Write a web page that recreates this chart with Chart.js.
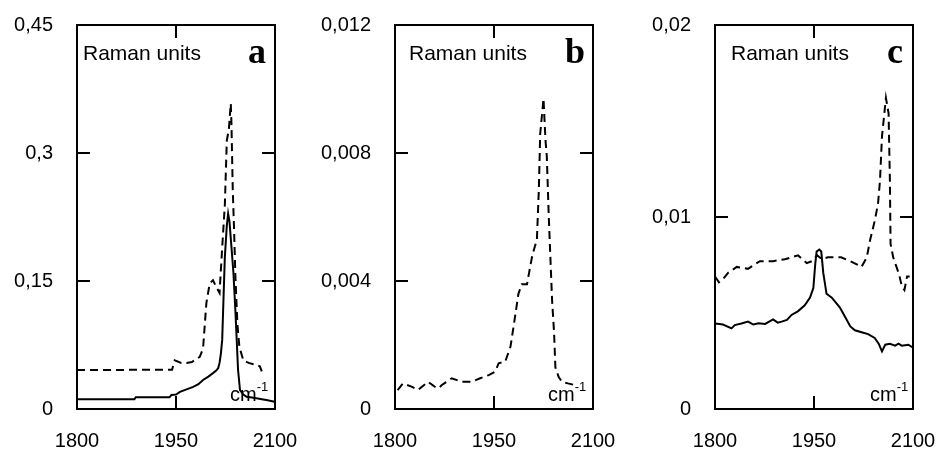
<!DOCTYPE html>
<html>
<head>
<meta charset="utf-8">
<script src="https://cdn.jsdelivr.net/npm/chart.js@4/dist/chart.umd.min.js"></script>
<style>
  html, body { margin: 0; padding: 0; background: #fff; }
  body { width: 936px; height: 452px; position: relative; overflow: hidden; }
  .panel { position: absolute; top: 0; height: 452px; }
</style>
</head>
<body>
<div class="panel" style="left:0;width:300px"><canvas id="chartA"></canvas></div>
<div class="panel" style="left:300px;width:320px"><canvas id="chartB"></canvas></div>
<div class="panel" style="left:620px;width:316px"><canvas id="chartC"></canvas></div>
<script>
// wavenumber axis, shared by all panels
const xTicks = [1800, 1950, 2100]

// panel a
const aTicks = [0, 0.15, 0.3, 0.45]
const aTickLabels = ['0', '0,15', '0,3', '0,45']
const aSolidX = [1800, 1887, 1889, 1940, 1943, 1950, 1956, 1966, 1976, 1984, 1991, 1999, 2006, 2011, 2014, 2016, 2018, 2020, 2022, 2024, 2027, 2029, 2031, 2034, 2037, 2040, 2042, 2044, 2047, 2052, 2057, 2065, 2072, 2080, 2087, 2094, 2100]
const aSolidY = [0.0113, 0.0113, 0.0137, 0.0137, 0.0164, 0.0170, 0.0200, 0.0230, 0.0260, 0.0290, 0.0340, 0.0380, 0.0420, 0.0450, 0.0480, 0.0540, 0.0650, 0.0810, 0.1300, 0.1780, 0.2150, 0.2290, 0.2200, 0.1900, 0.1600, 0.1150, 0.0810, 0.0460, 0.0220, 0.0170, 0.0144, 0.0135, 0.0125, 0.0115, 0.0105, 0.0095, 0.0086]
const aDashX = [1800, 1944, 1948, 1958, 1966, 1974, 1986, 1991, 1996, 2001, 2006, 2011, 2016, 2018, 2021, 2024, 2027, 2030, 2033, 2034, 2036, 2038, 2040, 2043, 2046, 2052, 2060, 2070, 2077, 2080]
const aDashY = [0.0457, 0.0460, 0.0570, 0.0540, 0.0540, 0.0550, 0.0610, 0.0710, 0.1240, 0.1470, 0.1510, 0.1430, 0.1360, 0.1630, 0.2020, 0.2390, 0.3150, 0.3270, 0.3580, 0.3350, 0.2570, 0.2100, 0.1550, 0.1000, 0.0730, 0.0570, 0.0540, 0.0520, 0.0500, 0.0440]

// panel b
const bTicks = [0, 0.004, 0.008, 0.012]
const bTickLabels = ['0', '0,004', '0,008', '0,012']
const bDashX = [1804, 1812, 1825, 1835, 1850, 1860, 1866, 1871, 1886, 1901, 1916, 1929, 1942, 1952, 1957, 1967, 1975, 1982, 1987, 1992, 2000, 2008, 2015, 2018, 2020, 2025, 2028, 2030, 2033, 2038, 2041, 2043, 2048, 2053, 2062, 2072]
const bDashY = [0.00059, 0.00080, 0.00070, 0.00060, 0.00085, 0.00070, 0.00065, 0.00075, 0.00096, 0.00085, 0.00085, 0.00096, 0.00106, 0.00117, 0.00143, 0.00148, 0.00195, 0.00290, 0.00360, 0.00390, 0.00390, 0.00480, 0.00530, 0.00690, 0.00860, 0.00970, 0.00840, 0.00790, 0.00600, 0.00340, 0.00240, 0.00130, 0.00100, 0.00085, 0.00080, 0.00075]

// panel c
const cTicks = [0, 0.01, 0.02]
const cTickLabels = ['0', '0,01', '0,02']
const cSolidX = [1800, 1812, 1825, 1830, 1840, 1850, 1858, 1866, 1876, 1888, 1895, 1901, 1909, 1916, 1926, 1936, 1944, 1949, 1952, 1954, 1958, 1961, 1964, 1969, 1977, 1989, 1997, 2005, 2012, 2022, 2032, 2042, 2048, 2053, 2058, 2065, 2073, 2078, 2083, 2093, 2100]
const cSolidY = [0.00446, 0.00440, 0.00420, 0.00437, 0.00445, 0.00455, 0.00440, 0.00446, 0.00443, 0.00467, 0.00450, 0.00455, 0.00464, 0.00490, 0.00510, 0.00540, 0.00580, 0.00630, 0.00760, 0.00820, 0.00830, 0.00820, 0.00710, 0.00600, 0.00580, 0.00530, 0.00480, 0.00430, 0.00410, 0.00400, 0.00390, 0.00370, 0.00340, 0.00300, 0.00335, 0.00340, 0.00330, 0.00340, 0.00330, 0.00335, 0.00320]
const cDashX = [1800, 1806, 1813, 1820, 1833, 1850, 1868, 1888, 1906, 1926, 1939, 1947, 1955, 1962, 1971, 1991, 2005, 2017, 2022, 2030, 2035, 2042, 2047, 2050, 2053, 2059, 2063, 2065, 2066, 2070, 2075, 2079, 2083, 2087, 2091, 2095]
const cDashY = [0.0069, 0.0066, 0.0068, 0.0071, 0.0074, 0.0073, 0.0077, 0.0077, 0.0078, 0.0080, 0.0076, 0.0077, 0.0080, 0.0078, 0.0079, 0.0079, 0.0077, 0.0075, 0.0074, 0.0079, 0.0088, 0.0098, 0.0107, 0.0119, 0.0142, 0.0162, 0.0154, 0.0119, 0.0086, 0.0079, 0.0074, 0.0070, 0.0064, 0.0062, 0.0069, 0.0069]

const FONT = '"Liberation Sans", Arial, Helvetica, sans-serif'

const toPoints = (xs, ys) => xs.map((x, i) => ({ x, y: ys[i] }))

/**
 * Plot frame, inward tick marks and the in-plot annotations
 */
const framePlugin = {
    id: 'frame',
    afterDraw(chart, args, opts) {
        const { ctx, chartArea: area, scales } = chart
        const tick = 13
        ctx.save()
        ctx.strokeStyle = '#000'
        ctx.lineWidth = 2
        ctx.strokeRect(area.left, area.top, area.right - area.left, area.bottom - area.top)

        ctx.beginPath()
        scales.y.ticks.forEach(t => {
            if (t.value === scales.y.min || t.value === scales.y.max) return
            const py = Math.round(scales.y.getPixelForValue(t.value))
            ctx.moveTo(area.left, py)
            ctx.lineTo(area.left + tick, py)
            ctx.moveTo(area.right, py)
            ctx.lineTo(area.right - tick, py)
        })
        scales.x.ticks.forEach(t => {
            if (t.value === scales.x.min || t.value === scales.x.max) return
            const px = Math.round(scales.x.getPixelForValue(t.value))
            ctx.moveTo(px, area.top)
            ctx.lineTo(px, area.top + tick)
            ctx.moveTo(px, area.bottom)
            ctx.lineTo(px, area.bottom - tick)
        })
        ctx.stroke()

        ctx.fillStyle = '#000'
        ctx.textBaseline = 'alphabetic'
        ctx.textAlign = 'left'
        ctx.font = '21px ' + FONT
        ctx.fillText('Raman units', area.left + opts.unitsDx, 60)

        ctx.textAlign = 'right'
        ctx.font = 'bold 36px "Liberation Serif", "Times New Roman", serif'
        ctx.fillText(opts.letter, area.right - opts.letterDx, 63)

        ctx.textAlign = 'left'
        ctx.font = '20px ' + FONT
        ctx.fillText('cm', area.right - opts.cmDx, 401)
        const cmW = ctx.measureText('cm').width
        ctx.font = '13px ' + FONT
        ctx.fillText('-1', area.right - opts.cmDx + cmW, 391)
        ctx.restore()
    }
}

function createPanel(canvas, cfg) {
    const ctx = canvas.getContext('2d')
    const datasets = cfg.series.map(s => ({
        data: s.data,
        borderColor: '#000',
        borderWidth: 2,
        borderDash: s.dashed ? [8, 5] : [],
        pointRadius: 0,
        tension: 0,
        fill: false
    }))

    return new Chart(ctx, {
        type: 'line',
        data: { datasets },
        plugins: [framePlugin],
        options: {
            responsive: true,
            maintainAspectRatio: false,
            animation: false,
            events: [],
            layout: { padding: { top: 25, right: cfg.padRight, left: 0, bottom: 0 } },
            plugins: {
                legend: { display: false },
                tooltip: { enabled: false },
                frame: cfg.frame
            },
            scales: {
                x: {
                    type: 'linear',
                    min: 1800,
                    max: 2100,
                    grid: { display: false, drawTicks: false },
                    border: { display: false },
                    afterBuildTicks: scale => { scale.ticks = xTicks.map(v => ({ value: v })) },
                    afterFit: scale => {
                        scale.height = 43
                        scale.paddingLeft = 0
                        scale.paddingRight = 0
                    },
                    ticks: {
                        color: '#000',
                        padding: 20,
                        maxRotation: 0,
                        autoSkip: false,
                        font: { family: FONT, size: 20 },
                        callback: value => String(value)
                    }
                },
                y: {
                    min: 0,
                    max: cfg.yTicks[cfg.yTicks.length - 1],
                    grid: { display: false, drawTicks: false },
                    border: { display: false },
                    afterBuildTicks: scale => { scale.ticks = cfg.yTicks.map(v => ({ value: v })) },
                    afterFit: scale => {
                        scale.width = cfg.yWidth
                        scale.paddingTop = 0
                        scale.paddingBottom = 0
                    },
                    ticks: {
                        color: '#000',
                        padding: 24,
                        autoSkip: false,
                        font: { family: FONT, size: 20 },
                        callback: value => cfg.yLabels[cfg.yTicks.indexOf(value)]
                    }
                }
            }
        }
    })
}

createPanel(document.getElementById('chartA'), {
    yTicks: aTicks,
    yLabels: aTickLabels,
    yWidth: 77,
    padRight: 25,
    frame: { letter: 'a', unitsDx: 6, letterDx: 9, cmDx: 45 },
    series: [
        { data: toPoints(aDashX, aDashY), dashed: true },
        { data: toPoints(aSolidX, aSolidY), dashed: false }
    ]
})

createPanel(document.getElementById('chartB'), {
    yTicks: bTicks,
    yLabels: bTickLabels,
    yWidth: 95,
    padRight: 27,
    frame: { letter: 'b', unitsDx: 14, letterDx: 8, cmDx: 45 },
    series: [
        { data: toPoints(bDashX, bDashY), dashed: true }
    ]
})

createPanel(document.getElementById('chartC'), {
    yTicks: cTicks,
    yLabels: cTickLabels,
    yWidth: 95,
    padRight: 23,
    frame: { letter: 'c', unitsDx: 16, letterDx: 10, cmDx: 43 },
    series: [
        { data: toPoints(cDashX, cDashY), dashed: true },
        { data: toPoints(cSolidX, cSolidY), dashed: false }
    ]
})
</script>
</body>
</html>
